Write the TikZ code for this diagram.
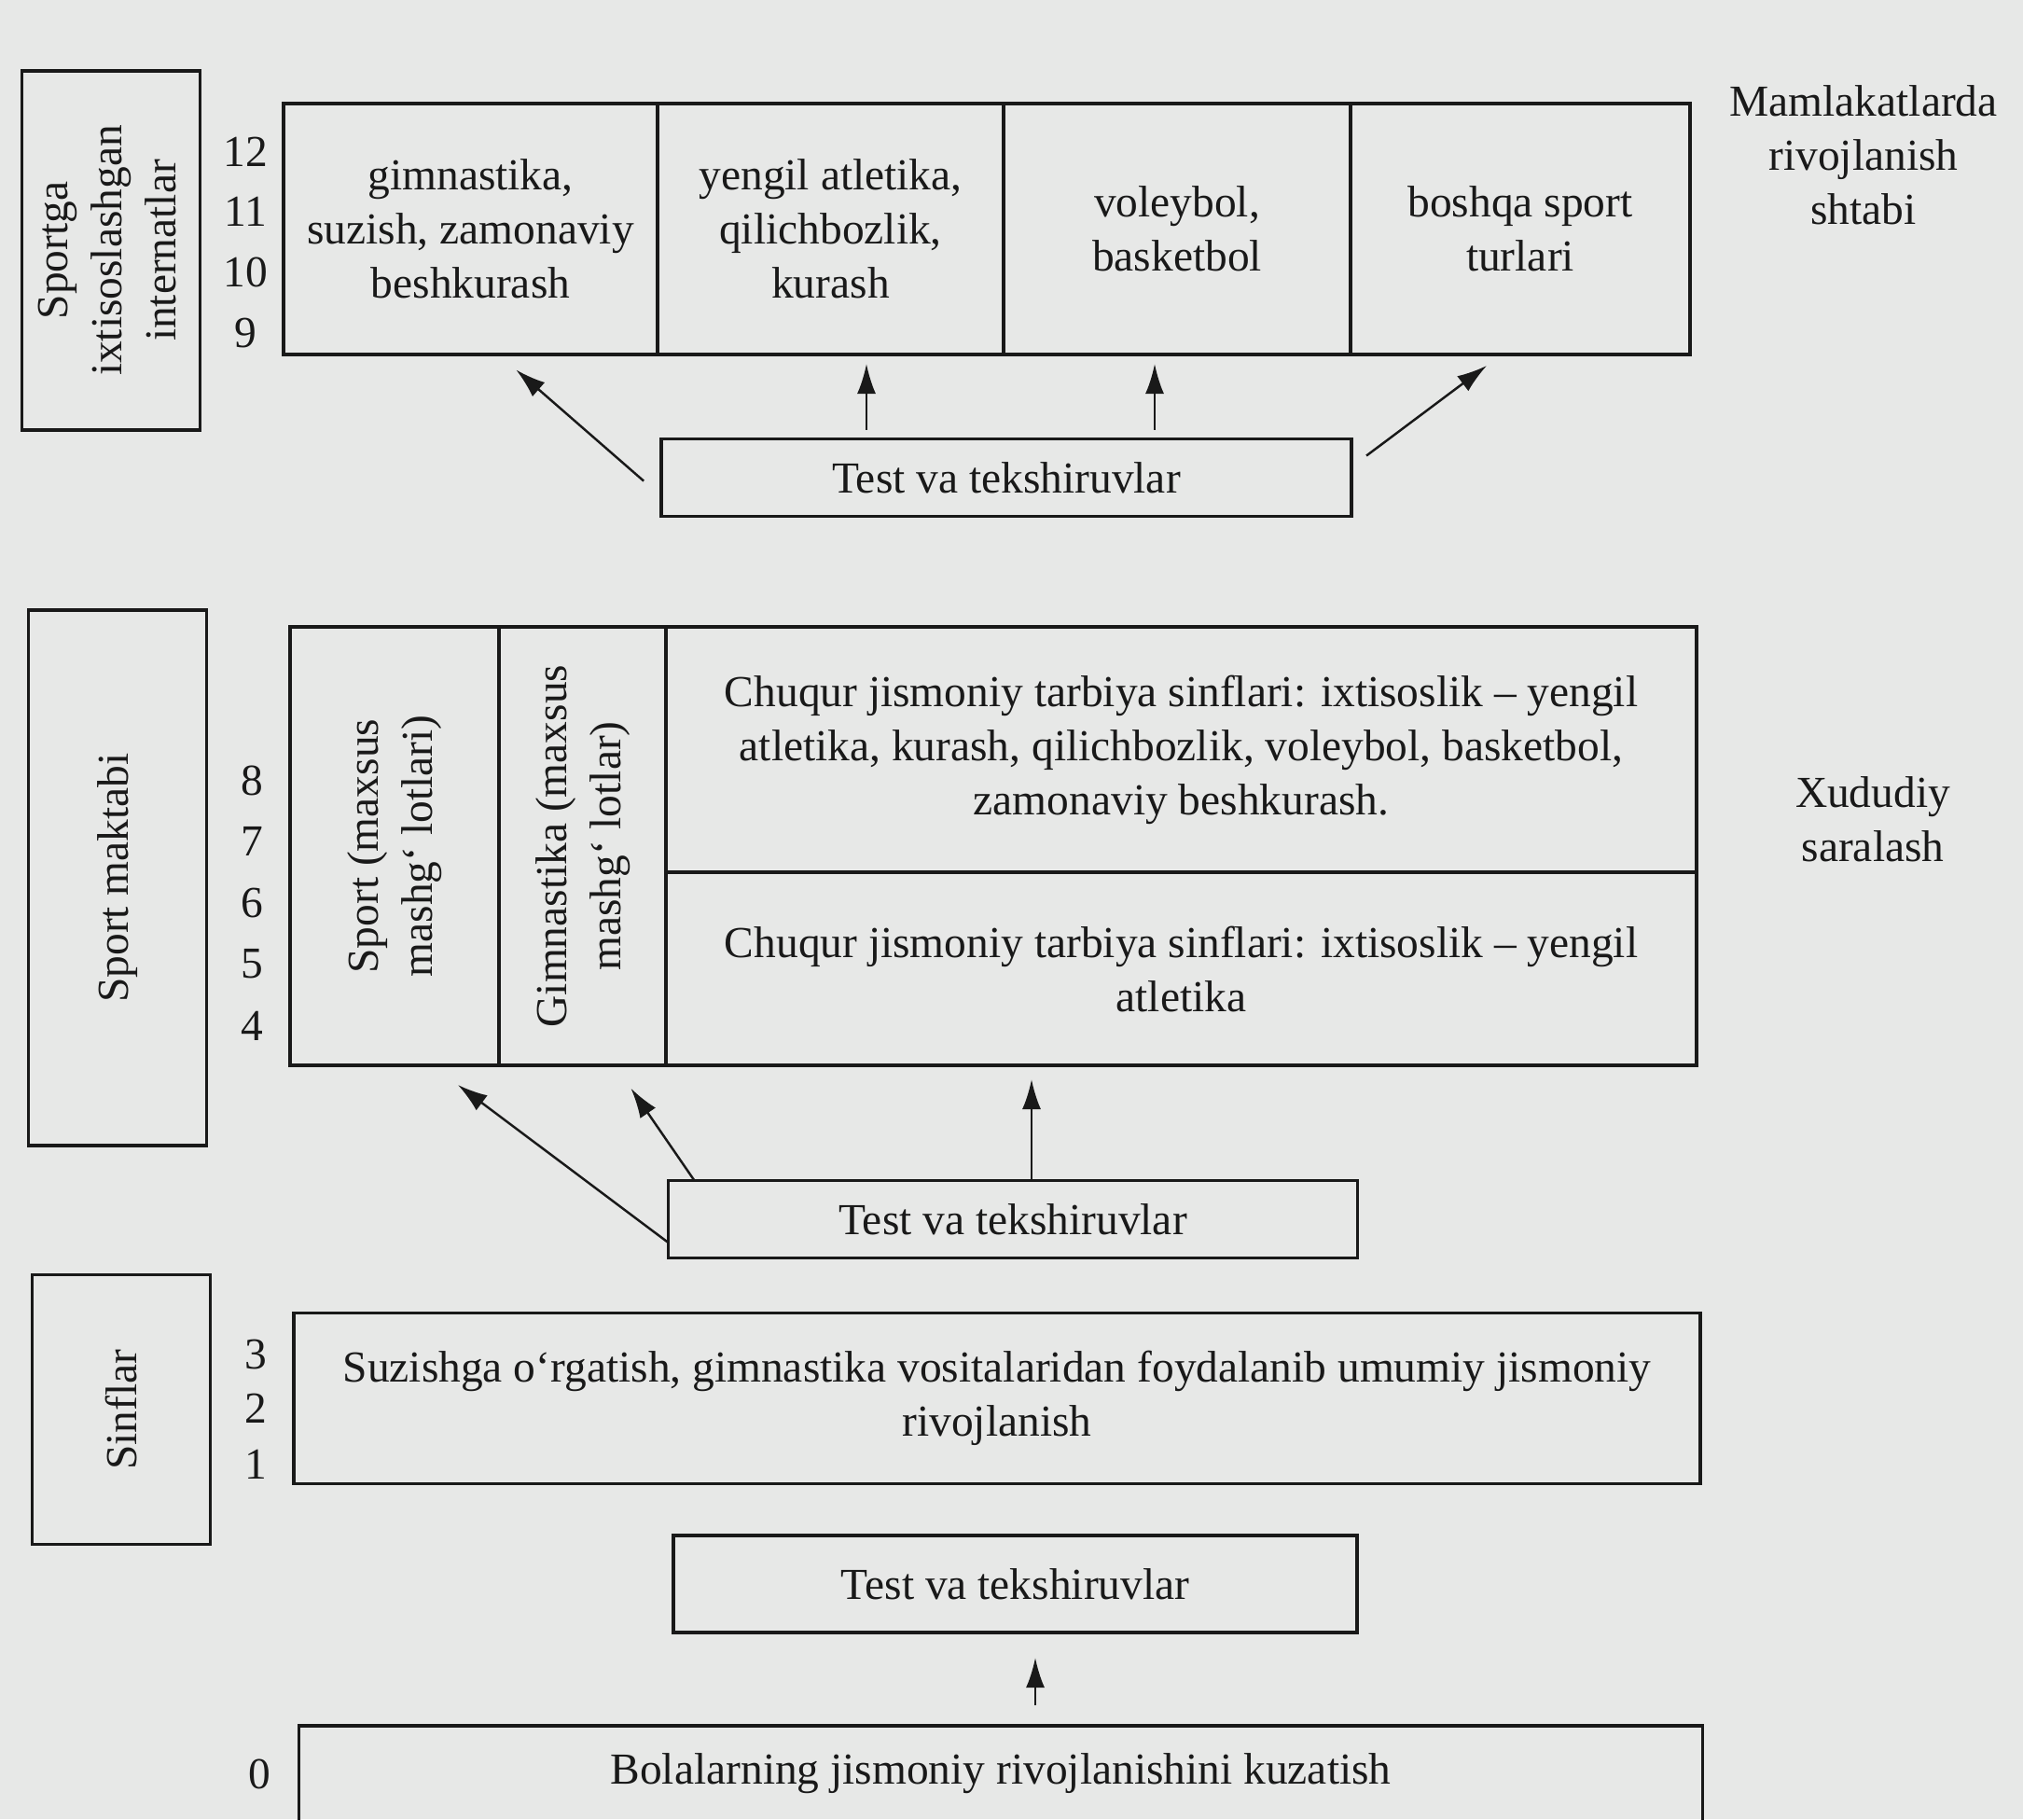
\documentclass[tikz,border=0pt]{standalone}
\usepackage{fontspec}
\setmainfont{Liberation Serif}
\usetikzlibrary{arrows.meta,calc}
\definecolor{paper}{RGB}{231,232,231}
\definecolor{ink}{RGB}{25,25,25}

\begin{document}
\begin{tikzpicture}[
    every node/.style={font=\fontsize{13.5}{16.5}\selectfont, text=ink},
    box/.style={draw=ink, line width=0.9pt, rectangle, align=center, inner sep=2pt, outer sep=0pt},
    arr/.style={draw=ink, -{Latex[length=3.2mm,width=2mm]}, line width=0.7pt},
    num/.style={inner sep=1pt}
]
        % Page
        \useasboundingbox (0,0) rectangle (21.69,-19.50);
        \clip (0,0) rectangle (21.69,-19.50);
        \fill[paper] (0,0) rectangle (21.69,-19.50);

        % Draw left boxes
        \node[box, minimum height=3.85cm, minimum width=1.91cm] (internat) at (1.19,-2.685) {\rotatebox{90}{\begin{tabular}{@{}c@{}}Sportga\\ ixtisoslashgan\\ internatlar\end{tabular}}};
        \node[box, minimum height=5.74cm, minimum width=1.91cm] (maktab) at (1.26,-9.41) {\rotatebox{90}{Sport maktabi}};
        \node[box, minimum height=2.89cm, minimum width=1.91cm] (sinflar) at (1.30,-15.11) {\rotatebox{90}{Sinflar}};

        % Draw class numbers
        \node[num] (n12) at (2.63,-1.63) {12};
        \node[num] (n11) at (2.63,-2.27) {11};
        \node[num] (n10) at (2.63,-2.92) {10};
        \node[num] (n9) at (2.63,-3.57) {9};
        \node[num] (n8) at (2.70,-8.37) {8};
        \node[num] (n7) at (2.70,-9.02) {7};
        \node[num] (n6) at (2.70,-9.68) {6};
        \node[num] (n5) at (2.70,-10.33) {5};
        \node[num] (n4) at (2.70,-11.00) {4};
        \node[num] (n3) at (2.74,-14.52) {3};
        \node[num] (n2) at (2.74,-15.10) {2};
        \node[num] (n1) at (2.74,-15.70) {1};
        \node[num] (n0) at (2.78,-19.02) {0};

        % Draw top boxes
        \node[box, minimum height=2.69cm, minimum width=4.01cm] (gimsuz) at (5.045,-2.455) {gimnastika,\\ suzish, zamonaviy\\ beshkurash};
        \node[box, minimum height=2.69cm, minimum width=3.71cm] (yengil) at (8.905,-2.455) {yengil atletika,\\ qilichbozlik,\\ kurash};
        \node[box, minimum height=2.69cm, minimum width=3.72cm] (volbas) at (12.62,-2.455) {voleybol,\\ basketbol};
        \node[box, minimum height=2.69cm, minimum width=3.64cm] (boshqa) at (16.30,-2.455) {boshqa sport\\ turlari};
        \node[align=center] (shtab) at (19.98,-1.66) {Mamlakatlarda\\ rivojlanish\\ shtabi};
        \node[box, minimum height=0.83cm, minimum width=7.40cm] (test1) at (10.79,-5.12) {Test va tekshiruvlar};

        % Draw middle boxes
        \node[box, minimum height=4.70cm, minimum width=2.24cm] (sportcol) at (4.23,-9.07) {\rotatebox{90}{\begin{tabular}{@{}c@{}}Sport (maxsus\\ mashg‘ lotlari)\end{tabular}}};
        \node[box, minimum height=4.70cm, minimum width=1.79cm] (gimcol) at (6.245,-9.07) {\rotatebox{90}{\begin{tabular}{@{}c@{}}Gimnastika (maxsus\\ mashg‘ lotlar)\end{tabular}}};
        \node[box, minimum height=2.63cm, minimum width=11.05cm] (chuqur1) at (12.665,-8.035) {Chuqur jismoniy tarbiya sinflari: ixtisoslik – yengil\\ atletika, kurash, qilichbozlik, voleybol, basketbol,\\ zamonaviy beshkurash.};
        \node[box, minimum height=2.07cm, minimum width=11.05cm] (chuqur2) at (12.665,-10.385) {Chuqur jismoniy tarbiya sinflari: ixtisoslik – yengil\\ atletika};
        \node[align=center] (saralash) at (20.08,-8.78) {Xududiy\\ saralash};
        \node[box, minimum height=0.83cm, minimum width=7.39cm] (test2) at (10.86,-13.07) {Test va tekshiruvlar};

        % Draw bottom boxes
        \node[box, minimum height=1.83cm, minimum width=15.08cm] (umumiy) at (10.69,-14.99) {Suzishga o‘rgatish, gimnastika vositalaridan foydalanib umumiy jismoniy\\ rivojlanish};
        \node[box, minimum height=1.04cm, minimum width=7.33cm] (test3) at (10.885,-16.98) {Test va tekshiruvlar};
        \node[box, minimum height=1.03cm, minimum width=15.05cm] (kuzatish) at (10.73,-19.015) {Bolalarning jismoniy rivojlanishini kuzatish};

        % Draw arrows
        \draw[arr, shorten <=0.25cm, shorten >=0.25cm] ([yshift=-0.2cm]test1.west) -- ([xshift=0.3cm]gimsuz.south);
        \draw[arr, shorten <=0.1cm, shorten >=0.1cm] ([xshift=-1.5cm]test1.north) -- ([xshift=-1.5cm]test1.north |- yengil.south);
        \draw[arr, shorten <=0.1cm, shorten >=0.1cm] ([xshift=1.59cm]test1.north) -- ([xshift=1.59cm]test1.north |- volbas.south);
        \draw[arr, shorten <=0.2cm, shorten >=0.2cm] ([yshift=-0.3cm]test1.north east) -- ([xshift=-0.2cm]boshqa.south);
        \draw[arr, shorten >=0.35cm] ([yshift=-0.25cm]test2.west) -- ([xshift=0.4cm]sportcol.south);
        \draw[arr, shorten >=0.3cm] ([xshift=0.28cm]test2.north west) -- ([xshift=0.35cm]gimcol.south);
        \draw[arr, shorten >=0.15cm] ([xshift=0.2cm]test2.north) -- ([xshift=0.2cm]test2.north |- chuqur2.south);
        \draw[arr, shorten <=0.22cm, shorten >=0.27cm] ([xshift=0.37cm]kuzatish.north) -- ([xshift=0.37cm]kuzatish.north |- test3.south);
    \end{tikzpicture}
\end{document}
